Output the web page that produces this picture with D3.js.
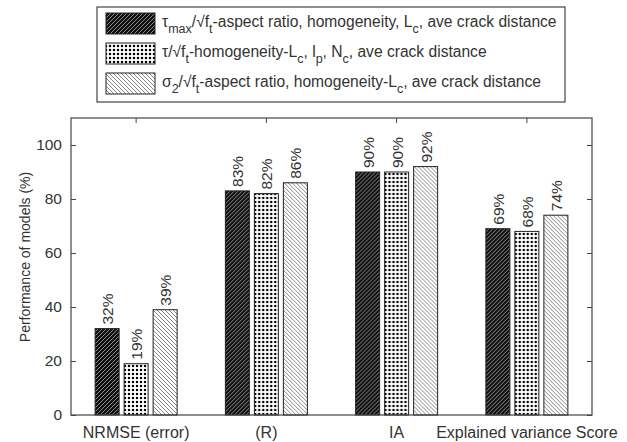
<!DOCTYPE html>
<html><head><meta charset="utf-8">
<script src="https://cdn.jsdelivr.net/npm/d3@7"></script>
<style>body{margin:0;background:#fff;} text{font-family:"Liberation Sans",Arial,sans-serif;fill:#333;}</style>
</head><body>
<svg id="c" width="627" height="442"></svg>
<script>
const categories = ["NRMSE (error)", "(R)", "IA", "Explained variance Score"];
const seriesNames = ["s1", "s2", "s3"];
const series1 = [32, 83, 90, 69];
const series2 = [19, 82, 90, 68];
const series3 = [39, 86, 92, 74];
const yTicks = [0, 20, 40, 60, 80, 100];

const svg = d3.select("#c");
const M = {l:71, r:592, t:118, b:415};
const x0 = d3.scaleBand().domain(categories).range([M.l, M.r]).paddingInner(0).paddingOuter(0);
const x1 = d3.scaleBand().domain(seriesNames)
  .range([x0.bandwidth()/2 - 43.5, x0.bandwidth()/2 + 43.5])
  .paddingInner(5/29).paddingOuter(2.5/29);
const y = d3.scaleLinear().domain([0, 110]).range([M.b, M.t]);

// patterns
const defs = svg.append("defs");
const p1 = defs.append("pattern").attr("id","p1").attr("patternUnits","userSpaceOnUse").attr("width",4).attr("height",4);
p1.append("rect").attr("width",4).attr("height",4).attr("fill","#111");
p1.append("path").attr("d","M-1,1 l2,-2 M0,4 l4,-4 M3,5 l2,-2").attr("stroke","#999").attr("stroke-width",0.9);
const p2 = defs.append("pattern").attr("id","p2").attr("patternUnits","userSpaceOnUse").attr("width",4).attr("height",4);
p2.append("rect").attr("width",4).attr("height",4).attr("fill","#fff");
p2.append("path").attr("d","M0,2 h4 M2,0 v4").attr("stroke","#aaa").attr("stroke-width",0.6);
p2.append("rect").attr("x",1).attr("y",1).attr("width",2).attr("height",2).attr("fill","#000");
const p3 = defs.append("pattern").attr("id","p3").attr("patternUnits","userSpaceOnUse").attr("width",4).attr("height",4);
p3.append("rect").attr("width",4).attr("height",4).attr("fill","#fff");
p3.append("path").attr("d","M-1,3 l2,2 M0,0 l4,4 M3,-1 l2,2").attr("stroke","#777").attr("stroke-width",0.9);
const fills = {s1:"url(#p1)", s2:"url(#p2)", s3:"url(#p3)"};

const data = categories.map((c,i)=>({cat:c, vals:[
  {s:"s1", v:series1[i]}, {s:"s2", v:series2[i]}, {s:"s3", v:series3[i]}]}));

// bars
const g = svg.append("g");
const groups = g.selectAll("g.grp").data(data).join("g").attr("class","grp")
  .attr("transform", d=>`translate(${x0(d.cat)},0)`);
groups.selectAll("rect").data(d=>d.vals).join("rect")
  .attr("x", d=>x1(d.s)).attr("width", x1.bandwidth())
  .attr("y", d=>y(d.v)).attr("height", d=>y(0)-y(d.v))
  .attr("fill", d=>fills[d.s]).attr("stroke","#222").attr("stroke-width",1);
groups.selectAll("text").data(d=>d.vals).join("text")
  .attr("transform", d=>`translate(${x1(d.s)+x1.bandwidth()/2+6},${y(d.v)-4}) rotate(-90)`)
  .attr("font-size",15.5).text(d=>d.v+"%");

// axes box
const axc = "#444";
svg.append("rect").attr("x",M.l).attr("y",M.t).attr("width",M.r-M.l).attr("height",M.b-M.t)
  .attr("fill","none").attr("stroke",axc).attr("stroke-width",1.2);
const yAxL = d3.axisLeft(y).tickValues(yTicks).tickSize(-5).tickPadding(9);
const gy = svg.append("g").attr("transform",`translate(${M.l},0)`).call(yAxL);
gy.select(".domain").remove();
gy.selectAll("line").attr("stroke",axc);
gy.selectAll("text").attr("font-size",15.5).attr("fill","#333").attr("font-family","Liberation Sans, Arial, sans-serif");
const yAxR = d3.axisRight(y).tickValues(yTicks).tickSize(-5).tickFormat("");
const gyr = svg.append("g").attr("transform",`translate(${M.r},0)`).call(yAxR);
gyr.select(".domain").remove(); gyr.selectAll("line").attr("stroke",axc);
const xAxT = d3.axisTop(x0).tickSize(-5).tickFormat("");
const gxt = svg.append("g").attr("transform",`translate(0,${M.t})`).call(xAxT);
gxt.select(".domain").remove(); gxt.selectAll("line").attr("stroke",axc);
const xAxB = d3.axisBottom(x0).tickSize(0).tickPadding(12);
const gxb = svg.append("g").attr("transform",`translate(0,${M.b})`).call(xAxB);
gxb.select(".domain").remove();
gxb.selectAll("text").attr("font-size",16).attr("fill","#333").attr("font-family","Liberation Sans, Arial, sans-serif");

svg.append("text").attr("transform","translate(30,257) rotate(-90)").attr("text-anchor","middle")
  .attr("font-size",14).text("Performance of models (%)");

// legend
const lg = svg.append("g");
lg.append("rect").attr("x",97).attr("y",7).attr("width",468).attr("height",95)
  .attr("fill","#fff").attr("stroke",axc).attr("stroke-width",1.2);
const legendItems = [
  {s:"s1", parts:[["τ",""],["max","sub"],["/√f",""],["t","sub"],["-aspect ratio, homogeneity, L",""],["c","sub"],[", ave crack distance",""]]},
  {s:"s2", parts:[["τ/√f",""],["t","sub"],["-homogeneity-L",""],["c","sub"],[", l",""],["p","sub"],[", N",""],["c","sub"],[", ave crack distance",""]]},
  {s:"s3", parts:[["σ",""],["2","sub"],["/√f",""],["t","sub"],["-aspect ratio, homogeneity-L",""],["c","sub"],[", ave crack distance",""]]}
];
legendItems.forEach((it,i)=>{
  const cy = 23.5 + i*30;
  lg.append("rect").attr("x",106).attr("y",cy-10.5).attr("width",49).attr("height",21)
    .attr("fill",fills[it.s]).attr("stroke","#222").attr("stroke-width",1);
  const t = lg.append("text").attr("x",162).attr("y",cy+3).attr("font-size",15.6);
  let prevSub = false;
  it.parts.forEach(([s,k])=>{
    const ts = t.append("tspan").text(s);
    if(k==="sub"){ ts.attr("font-size",12.5).attr("dy",prevSub?0:6); prevSub = true; }
    else { ts.attr("dy", prevSub?-6:0); prevSub = false; }
  });
});
</script>
</body></html>
